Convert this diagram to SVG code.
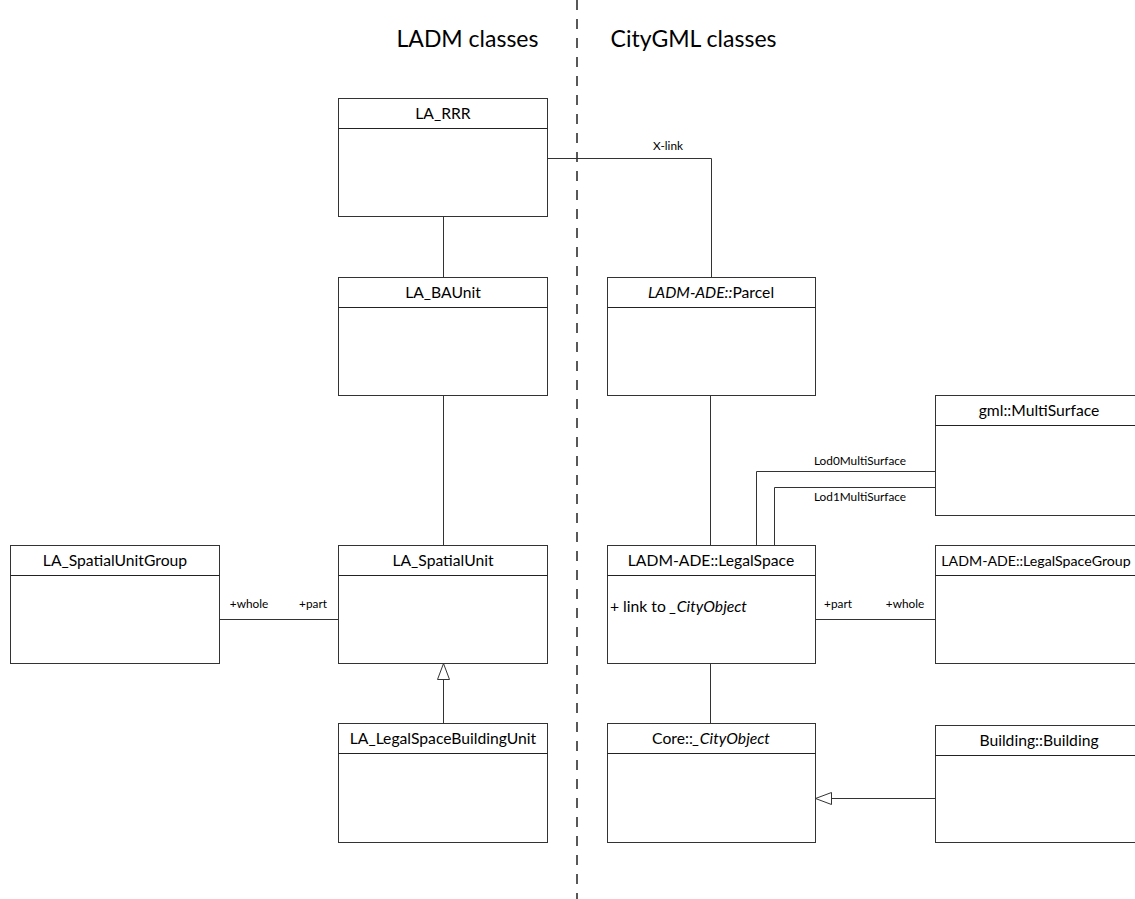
<svg xmlns="http://www.w3.org/2000/svg" width="1135" height="899" viewBox="0 0 1135 899">
<style>
  .box { fill: #ffffff; stroke: #333333; stroke-width: 1; }
  .sep { stroke: #222222; stroke-width: 1; }
  .title { font-family: Lato, "Liberation Sans", sans-serif; font-size: 15.7px; fill: #000; text-anchor: middle; }
  .attr { font-family: Lato, "Liberation Sans", sans-serif; font-size: 15.7px; fill: #000; }
  .lbl { font-family: Lato, "Liberation Sans", sans-serif; font-size: 11.8px; fill: #000; text-anchor: middle; }
  .head { font-family: Lato, "Liberation Sans", sans-serif; font-size: 23px; fill: #000; text-anchor: middle; }
  .conn { fill: none; stroke: #333333; stroke-width: 1; }
  .it { font-style: italic; }
</style>
<defs>
  <marker id="gen" viewBox="0 0 18 14" refX="17" refY="7" markerWidth="18" markerHeight="14" markerUnits="userSpaceOnUse" orient="auto">
    <path d="M1,1 L17,7 L1,13 Z" fill="#ffffff" stroke="#333333" stroke-width="1"/>
  </marker>
</defs>
<rect width="1135" height="899" fill="#ffffff"/>

<g id="headers">
  <text class="head" x="467.5" y="47">LADM classes</text>
  <text class="head" x="693.5" y="47">CityGML classes</text>
</g>

<line x1="577" y1="0" x2="577" y2="899" stroke="#222222" stroke-width="1.5" stroke-dasharray="10 9"/>

<g id="connectors">
  <path class="conn" d="M443.5,216.5 V277.5"/>
  <path class="conn" d="M443.5,395.5 V545.5"/>
  <path class="conn" d="M219.5,619.5 H338.5"/>
  <path class="conn" d="M443.5,723.5 V663.5" marker-end="url(#gen)"/>
  <path class="conn" d="M547.5,158.5 H711.5 V277.5"/>
  <path class="conn" d="M710.5,395.5 V545.5"/>
  <path class="conn" d="M756.5,545.5 V471.5 H935.5"/>
  <path class="conn" d="M774.5,545.5 V487.5 H935.5" stroke-width="1.6"/>
  <path class="conn" d="M815.5,619.5 H935.5"/>
  <path class="conn" d="M710.5,663.5 V723.5"/>
  <path class="conn" d="M935.5,798.5 H815.5" marker-end="url(#gen)"/>
  <text class="lbl" x="668" y="150">X-link</text>
  <text class="lbl" x="249" y="608">+whole</text>
  <text class="lbl" x="313" y="608">+part</text>
  <text class="lbl" x="860" y="465">Lod0MultiSurface</text>
  <text class="lbl" x="860" y="501">Lod1MultiSurface</text>
  <text class="lbl" x="838" y="608">+part</text>
  <text class="lbl" x="905" y="608">+whole</text>
</g>

<g id="LA_RRR">
  <rect class="box" x="338.5" y="98.5" width="209" height="118"/>
  <line class="sep" x1="338.5" y1="128.5" x2="547.5" y2="128.5"/>
  <text class="title" x="443" y="119">LA_RRR</text>
</g>
<g id="LA_BAUnit">
  <rect class="box" x="338.5" y="277.5" width="209" height="118"/>
  <line class="sep" x1="338.5" y1="307.5" x2="547.5" y2="307.5"/>
  <text class="title" x="443" y="298">LA_BAUnit</text>
</g>
<g id="LA_SpatialUnit">
  <rect class="box" x="338.5" y="545.5" width="209" height="118"/>
  <line class="sep" x1="338.5" y1="575.5" x2="547.5" y2="575.5"/>
  <text class="title" x="443" y="566">LA_SpatialUnit</text>
</g>
<g id="LA_SpatialUnitGroup">
  <rect class="box" x="10.5" y="545.5" width="209" height="118"/>
  <line class="sep" x1="10.5" y1="575.5" x2="219.5" y2="575.5"/>
  <text class="title" x="115" y="566">LA_SpatialUnitGroup</text>
</g>
<g id="LA_LegalSpaceBuildingUnit">
  <rect class="box" x="338.5" y="723.5" width="209" height="119"/>
  <line class="sep" x1="338.5" y1="753.5" x2="547.5" y2="753.5"/>
  <text class="title" x="443" y="744">LA_LegalSpaceBuildingUnit</text>
</g>
<g id="Parcel">
  <rect class="box" x="607.5" y="277.5" width="208" height="118"/>
  <line class="sep" x1="607.5" y1="307.5" x2="815.5" y2="307.5"/>
  <text class="title" x="711" y="298"><tspan class="it">LADM-ADE::</tspan>Parcel</text>
</g>
<g id="LegalSpace">
  <rect class="box" x="607.5" y="545.5" width="208" height="118"/>
  <line class="sep" x1="607.5" y1="575.5" x2="815.5" y2="575.5"/>
  <text class="title" x="711" y="566">LADM-ADE::LegalSpace</text>
  <text class="attr" x="610" y="612">+ link to <tspan class="it">_CityObject</tspan></text>
</g>
<g id="CityObject">
  <rect class="box" x="607.5" y="723.5" width="208" height="119"/>
  <line class="sep" x1="607.5" y1="753.5" x2="815.5" y2="753.5"/>
  <text class="title" x="711" y="744">Core::<tspan class="it">_CityObject</tspan></text>
</g>
<g id="MultiSurface">
  <rect class="box" x="935.5" y="395.5" width="209" height="120"/>
  <line class="sep" x1="935.5" y1="425.5" x2="1144.5" y2="425.5"/>
  <text class="title" x="1039" y="416">gml::MultiSurface</text>
</g>
<g id="LegalSpaceGroup">
  <rect class="box" x="935.5" y="545.5" width="209" height="118"/>
  <line class="sep" x1="935.5" y1="575.5" x2="1144.5" y2="575.5"/>
  <text class="title" x="1036" y="566" style="font-size:14.2px">LADM-ADE::LegalSpaceGroup</text>
</g>
<g id="Building">
  <rect class="box" x="935.5" y="725.5" width="209" height="117"/>
  <line class="sep" x1="935.5" y1="755.5" x2="1144.5" y2="755.5"/>
  <text class="title" x="1039" y="746">Building::Building</text>
</g>
</svg>
